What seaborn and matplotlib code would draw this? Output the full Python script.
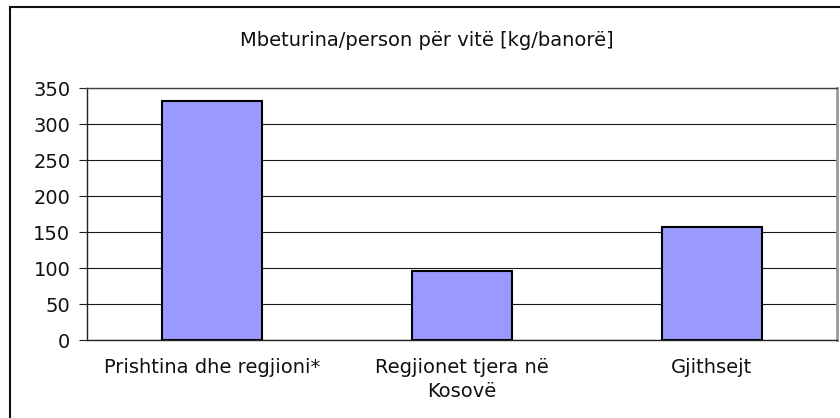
import matplotlib
matplotlib.use("Agg")
import matplotlib.pyplot as plt
import seaborn as sns
import pandas as pd
from matplotlib.patches import Rectangle

categories = ["Prishtina dhe regjioni*", "Regjionet tjera në\nKosovë", "Gjithsejt"]
values = [332, 96, 157]
title = "Mbeturina/person për vitë [kg/banorë]"
yticks = [0, 50, 100, 150, 200, 250, 300, 350]

sns.set_theme(style="white")
plt.rcParams['font.family'] = ['DejaVu Sans']

FS = 14

df = pd.DataFrame({"cat": categories, "val": values})

fig = plt.figure(figsize=(8.4, 4.18), dpi=100)
ax = fig.add_axes([87/840, 1-340/418, (837-87)/840, (340-88)/418])

sns.barplot(data=df, x="cat", y="val", ax=ax, color="#9999FF", saturation=1,
            width=0.4, edgecolor="black", linewidth=1.5)

ax.set_ylim(0, 350)
ax.set_xlim(-0.5, 2.5)
ax.set_yticks(yticks)
ax.set_yticklabels([str(t) for t in yticks], fontsize=FS, color="#111111")
ax.yaxis.grid(True, color="#1a1a1a", linewidth=0.8)
ax.set_axisbelow(True)
ax.set_xlabel("")
ax.set_ylabel("")

# category separator ticks
ax.set_xticks([0, 1, 2])
ax.set_xticklabels(categories, fontsize=FS, color="#111111", linespacing=1.35)
ax.tick_params(axis="x", length=0, pad=13)
ax.set_xticks([0.5, 1.5], minor=True)
ax.tick_params(axis="x", which="minor", length=5, width=0.8, color="#222222", direction="out")
ax.tick_params(axis="y", length=6, width=0.8, color="#222222", direction="out", left=True, pad=6)

for s in ["left", "bottom"]:
    ax.spines[s].set_color("#222222")
    ax.spines[s].set_linewidth(1.0)
ax.spines["top"].set_color("#444444")
ax.spines["top"].set_linewidth(1.0)
ax.spines["right"].set_color("#999999")
ax.spines["right"].set_linewidth(2.0)

fig.text(427/840, 1-40/418, title, ha="center", va="center", fontsize=FS, color="#111111")

# outer chart border (cropped on right and bottom)
fig.patches.append(Rectangle((10/840, -0.2), 1.2, 1.2 - 7/418, transform=fig.transFigure,
                             fill=False, edgecolor="#111111", linewidth=1.5))

fig.savefig("out.png", dpi=100)
